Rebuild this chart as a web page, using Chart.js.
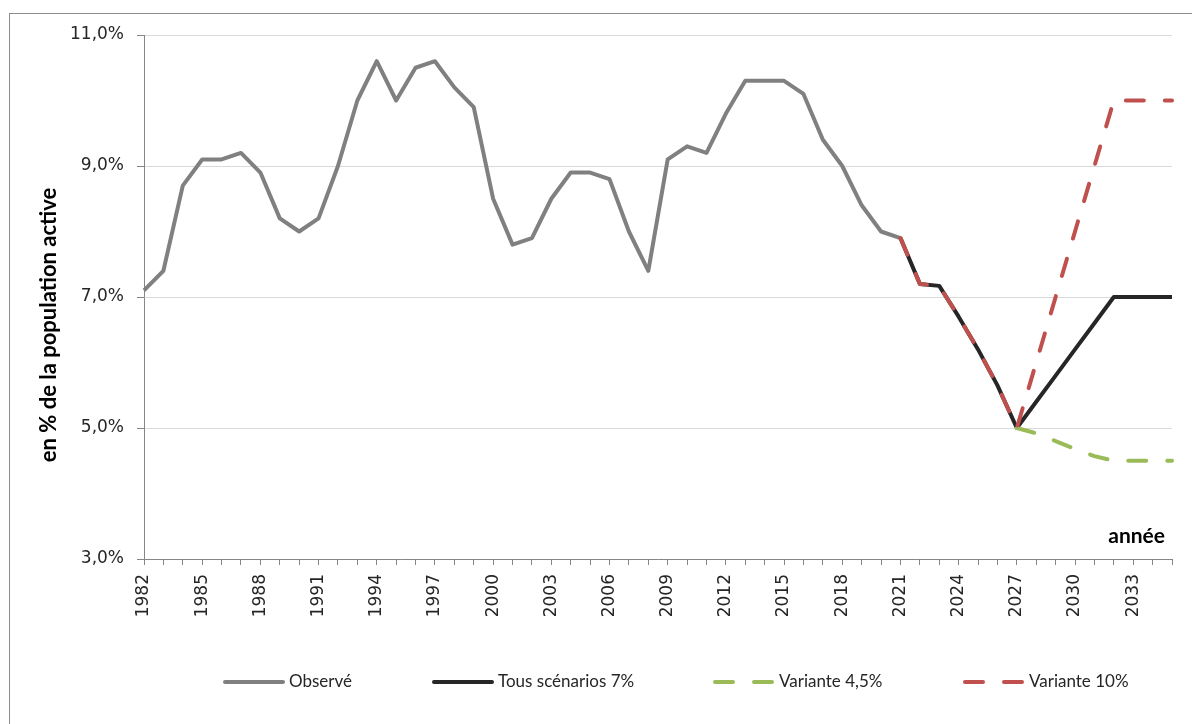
<!DOCTYPE html>
<html lang="fr">
<head>
<meta charset="utf-8">
<title>Taux de chômage</title>
<script src="https://cdn.jsdelivr.net/npm/chart.js@4/dist/chart.umd.min.js"></script>
<style>
    html, body { margin: 0; padding: 0; background: #fff; overflow: hidden; }
    #frame { position: absolute; left: 9px; top: 13px; width: 1400px; height: 900px; border: 1px solid #8c8c8c; }
    #wrap { position: absolute; left: 0; top: 0; width: 1192px; height: 724px; }
</style>
</head>
<body>
<div id="frame"></div>
<div id="wrap"><canvas id="chart"></canvas></div>
<script>
// années 1982 -> 2035
const years = [
    '1982', '1983', '1984', '1985', '1986', '1987', '1988', '1989', '1990', '1991',
    '1992', '1993', '1994', '1995', '1996', '1997', '1998', '1999', '2000', '2001',
    '2002', '2003', '2004', '2005', '2006', '2007', '2008', '2009', '2010', '2011',
    '2012', '2013', '2014', '2015', '2016', '2017', '2018', '2019', '2020', '2021',
    '2022', '2023', '2024', '2025', '2026', '2027', '2028', '2029', '2030', '2031',
    '2032', '2033', '2034', '2035'
];

// observé 1982 -> 2021
const observed = [
    7.1, 7.4, 8.7, 9.1, 9.1, 9.2, 8.9, 8.2, 8.0, 8.2,
    9.0, 10.0, 10.6, 10.0, 10.5, 10.6, 10.2, 9.9, 8.5, 7.8,
    7.9, 8.5, 8.9, 8.9, 8.8, 8.0, 7.4, 9.1, 9.3, 9.2,
    9.8, 10.3, 10.3, 10.3, 10.1, 9.4, 9.0, 8.4, 8.0, 7.9
];

// projections 2021 -> 2035
const commonPath = [7.9, 7.2, 7.17, 6.7, 6.2, 5.65, 5.0];          // 2021 -> 2027
const scenario7 = [5.4, 5.8, 6.2, 6.6, 7.0, 7.0, 7.0, 7.0];        // 2028 -> 2035
const variant45 = [4.92, 4.8, 4.68, 4.57, 4.5, 4.5, 4.5, 4.5];     // 2028 -> 2035
const variant10 = [6.0, 7.0, 8.0, 9.0, 10.0, 10.0, 10.0, 10.0];    // 2028 -> 2035

const yTicks = [3, 5, 7, 9, 11];

const lead = n => Array(n).fill(null);
const obsData = observed.concat(lead(years.length - observed.length));
const startIdx = observed.length - 1;
const tousData = lead(startIdx).concat(commonPath, scenario7);
const redData = lead(startIdx).concat(commonPath, variant10);
const greenData = lead(startIdx + commonPath.length - 1).concat([commonPath[commonPath.length - 1]], variant45);

const labelFont = 'Lato';
const tickFont = 'DejaVu Sans';

// légende en bas, une entrée par série (ordre des datasets)
const legendX = [223, 432, 713, 963];
const legendY = 682;

// titres : axe des y (vertical) et "année"
const textPlugin = {
    id: 'axisTexts',
    afterDraw(chart) {
        const { ctx, chartArea } = chart;
        ctx.save();
        ctx.fillStyle = '#000';
        ctx.textBaseline = 'middle';

        ctx.font = 'bold 21px ' + labelFont;
        ctx.textAlign = 'right';
        ctx.fillText('année', chartArea.right - 7, chartArea.bottom - 23);

        ctx.font = 'bold 22px ' + labelFont;
        ctx.textAlign = 'center';
        ctx.translate(49, 325);
        ctx.rotate(-Math.PI / 2);
        ctx.fillText('en % de la population active', 0, 0);
        ctx.restore();
    }
};

const legendPlugin = {
    id: 'bottomLegend',
    afterDraw(chart) {
        const ctx = chart.ctx;
        chart.data.datasets.forEach((ds, i) => {
            const x = legendX[i];
            ctx.save();
            ctx.strokeStyle = ds.borderColor;
            ctx.lineWidth = ds.borderWidth;
            ctx.lineCap = 'round';
            ctx.setLineDash(ds.borderDash || []);
            ctx.beginPath();
            ctx.moveTo(x + 2, legendY);
            ctx.lineTo(x + 60, legendY);
            ctx.stroke();
            ctx.setLineDash([]);
            ctx.fillStyle = '#262626';
            ctx.font = '17px ' + labelFont;
            ctx.textBaseline = 'middle';
            ctx.fillText(ds.label, x + 66, legendY);
            ctx.restore();
        });
    }
};

new Chart(document.getElementById('chart'), {
    type: 'line',
    data: {
        labels: years,
        datasets: [
            {
                label: 'Observé',
                data: obsData,
                borderColor: '#808080',
                backgroundColor: '#808080',
                borderWidth: 4,
                order: 3
            },
            {
                label: 'Tous scénarios 7%',
                data: tousData,
                borderColor: '#262626',
                backgroundColor: '#262626',
                borderWidth: 4,
                order: 2
            },
            {
                label: 'Variante 4,5%',
                data: greenData,
                borderColor: '#9BBB59',
                backgroundColor: '#9BBB59',
                borderWidth: 4,
                borderDash: [18, 21],
                borderCapStyle: 'round',
                order: 1
            },
            {
                label: 'Variante 10%',
                data: redData,
                borderColor: '#C0504D',
                backgroundColor: '#C0504D',
                borderWidth: 4,
                borderDash: [18, 21],
                borderCapStyle: 'round',
                order: 0
            }
        ]
    },
    options: {
        responsive: true,
        maintainAspectRatio: false,
        animation: false,
        events: [],
        elements: {
            point: { radius: 0 },
            line: { tension: 0, borderJoinStyle: 'round' }
        },
        layout: {
            padding: { top: 35, right: 20, bottom: 100, left: 0 }
        },
        plugins: {
            tooltip: { enabled: false },
            legend: { display: false }
        },
        scales: {
            x: {
                offset: false,
                border: { color: '#868686', width: 1 },
                grid: {
                    drawOnChartArea: false,
                    drawTicks: true,
                    tickLength: 6,
                    tickColor: '#868686'
                },
                ticks: {
                    autoSkip: false,
                    maxRotation: 90,
                    minRotation: 90,
                    padding: 9,
                    color: '#262626',
                    font: { family: tickFont, size: 17 },
                    callback: function (value, index) {
                        return index % 3 === 0 ? years[index] : '';
                    }
                },
                afterFit(scale) {
                    scale.height = 65;
                    scale.paddingLeft = 0;
                    scale.paddingRight = 0;
                }
            },
            y: {
                min: 3,
                max: 11,
                border: { color: '#868686', width: 1 },
                grid: {
                    color: '#d9d9d9',
                    tickColor: '#868686',
                    tickLength: 7
                },
                afterBuildTicks(scale) {
                    scale.ticks = yTicks.map(v => ({ value: v }));
                },
                ticks: {
                    padding: 13,
                    color: '#262626',
                    font: { family: tickFont, size: 17 },
                    callback: v => v.toFixed(1).replace('.', ',') + '%'
                },
                afterFit(scale) { scale.width = 144; }
            }
        }
    },
    plugins: [textPlugin, legendPlugin]
});
</script>
</body>
</html>
